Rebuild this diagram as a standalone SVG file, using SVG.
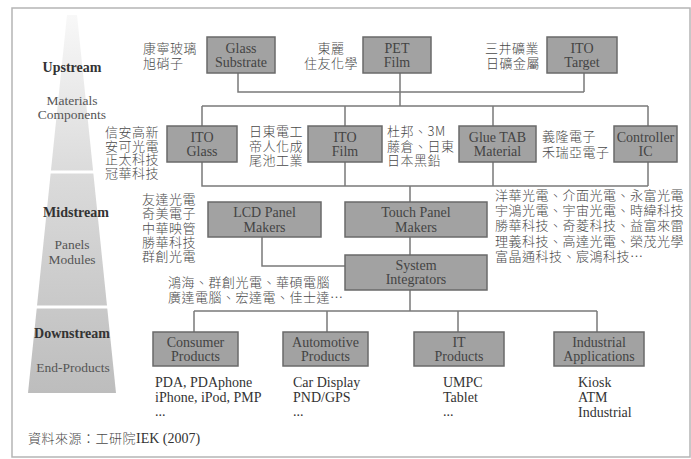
<svg xmlns="http://www.w3.org/2000/svg" width="691" height="459" viewBox="0 0 691 459">
<defs>
<linearGradient id="pyr" gradientUnits="userSpaceOnUse" x1="0" y1="15" x2="0" y2="393">
<stop offset="0" stop-color="#f8f8f8"/>
<stop offset="0.4" stop-color="#dcdcdc"/>
<stop offset="1" stop-color="#bdbdbd"/>
</linearGradient>
<style>
.frame{fill:#fff;stroke:#b5b5b5;stroke-width:1.5}
.box{fill:#a2a2a2;stroke:#6a6a6a;stroke-width:1.5}
.bt{font-family:"Liberation Serif",serif;font-size:14px;fill:#444;text-anchor:middle}
.lt{font-family:"Liberation Serif",serif;font-size:14px;fill:#333}
.st{font-family:"Liberation Serif",serif;font-size:14px;font-weight:bold;fill:#333;text-anchor:middle}
.sub{font-family:"Liberation Serif",serif;font-size:13.5px;fill:#555;text-anchor:middle}
.cn{font-family:"Noto Sans CJK TC","Noto Sans CJK SC",sans-serif;font-size:13px;font-weight:300;fill:#4a4a4a;letter-spacing:0.5px}
.mid{text-anchor:middle}
.conn path{fill:none;stroke:#7a7a7a;stroke-width:1.5}
</style>
</defs>
<rect class="frame" x="12" y="8" width="678" height="449"/>
<g id="pyramid">
<polygon points="67,15 77,15 116,393 28,393" fill="url(#pyr)"/>
<line x1="20" y1="172" x2="125" y2="172" stroke="#fff" stroke-width="3"/>
<line x1="20" y1="307" x2="125" y2="307" stroke="#fff" stroke-width="3"/>
<text class="st" x="72" y="72">Upstream</text>
<text class="sub" x="72" y="105">Materials<tspan x="72" dy="14">Components</tspan></text>
<text class="st" x="76" y="217">Midstream</text>
<text class="sub" x="72" y="249">Panels<tspan x="72" dy="15">Modules</tspan></text>
<text class="st" x="72" y="338">Downstream</text>
<text class="sub" x="73" y="372">End-Products</text>
</g>
<g class="conn" id="connectors">
<path d="M238 73V92H584M584 73V92M400 73V106"/>
<path d="M202 106H648M202 106V126M345 106V126M493 106V126M648 106V126"/>
<path d="M202 162V186H648M345 162V186M493 162V186M648 162V186M410 186V202"/>
<path d="M262 237V266H345M410 237V255M410 290V311"/>
<path d="M194 311H597M194 311V332M327 311V332M458 311V332M597 311V332"/>
</g>
<g id="glass-substrate"><rect class="box" x="207" y="37" width="68" height="36"/><text class="bt" x="241" y="53">Glass<tspan x="241" dy="14">Substrate</tspan></text></g>
<g id="pet-film"><rect class="box" x="363" y="37" width="68" height="36"/><text class="bt" x="397" y="53">PET<tspan x="397" dy="14">Film</tspan></text></g>
<g id="ito-target"><rect class="box" x="547" y="37" width="70" height="36"/><text class="bt" x="582" y="53">ITO<tspan x="582" dy="14">Target</tspan></text></g>
<g id="ito-glass"><rect class="box" x="167" y="126" width="70" height="36"/><text class="bt" x="202" y="142">ITO<tspan x="202" dy="14">Glass</tspan></text></g>
<g id="ito-film"><rect class="box" x="308" y="126" width="74" height="36"/><text class="bt" x="345" y="142">ITO<tspan x="345" dy="14">Film</tspan></text></g>
<g id="glue-tab"><rect class="box" x="459" y="126" width="77" height="36"/><text class="bt" x="497.5" y="142">Glue TAB<tspan x="497.5" dy="14">Material</tspan></text></g>
<g id="controller-ic"><rect class="box" x="614" y="126" width="63" height="36"/><text class="bt" x="645.5" y="142">Controller<tspan x="645.5" dy="14">IC</tspan></text></g>
<g id="lcd-panel"><rect class="box" x="208" y="202" width="113" height="35"/><text class="bt" x="264.5" y="217">LCD Panel<tspan x="264.5" dy="15">Makers</tspan></text></g>
<g id="touch-panel"><rect class="box" x="345" y="202" width="142" height="35"/><text class="bt" x="416" y="217">Touch Panel<tspan x="416" dy="15">Makers</tspan></text></g>
<g id="system-integrators"><rect class="box" x="345" y="255" width="142" height="35"/><text class="bt" x="416" y="270">System<tspan x="416" dy="14">Integrators</tspan></text></g>
<g id="consumer"><rect class="box" x="153" y="332" width="85" height="34"/><text class="bt" x="195.5" y="347">Consumer<tspan x="195.5" dy="14">Products</tspan></text></g>
<g id="automotive"><rect class="box" x="283" y="332" width="85" height="34"/><text class="bt" x="325.5" y="347">Automotive<tspan x="325.5" dy="14">Products</tspan></text></g>
<g id="it-products"><rect class="box" x="414" y="332" width="90" height="34"/><text class="bt" x="459" y="347">IT<tspan x="459" dy="14">Products</tspan></text></g>
<g id="industrial"><rect class="box" x="554" y="332" width="90" height="34"/><text class="bt" x="599" y="347">Industrial<tspan x="599" dy="14">Applications</tspan></text></g>
<g id="labels">
<text class="cn" x="143" y="53">康寧玻璃<tspan x="143" dy="15">旭硝子</tspan></text>
<text class="cn mid" x="331" y="53">東麗<tspan x="331" dy="15">住友化學</tspan></text>
<text class="cn" x="485" y="53">三井礦業<tspan x="486" dy="15">日礦金屬</tspan></text>
<text class="cn" x="105" y="137">信安高新<tspan x="105" dy="13.6">安可光電</tspan><tspan x="105" dy="13.6">正太科技</tspan><tspan x="105" dy="13.6">冠華科技</tspan></text>
<text class="cn" x="249" y="136">日東電工<tspan x="249" dy="14.5">帝人化成</tspan><tspan x="249" dy="14.5">尾池工業</tspan></text>
<text class="cn" x="387" y="136">杜邦、3M<tspan x="387" dy="14.5">藤倉、日東</tspan><tspan x="387" dy="14.5">日本黑鉛</tspan></text>
<text class="cn" x="542" y="141">義隆電子<tspan x="542" dy="16">禾瑞亞電子</tspan></text>
<text class="cn" x="142" y="204">友達光電<tspan x="142" dy="14.3">奇美電子</tspan><tspan x="142" dy="14.3">中華映管</tspan><tspan x="142" dy="14.3">勝華科技</tspan><tspan x="142" dy="14.3">群創光電</tspan></text>
<text class="cn" x="495" y="200">洋華光電、介面光電、永富光電<tspan x="495" dy="15.2">宇鴻光電、宇宙光電、時緯科技</tspan><tspan x="495" dy="15.2">勝華科技、奇菱科技、益富來雷</tspan><tspan x="495" dy="15.2">理義科技、高達光電、榮茂光學</tspan><tspan x="495" dy="15.2">富晶通科技、宸鴻科技…</tspan></text>
<text class="cn" x="168" y="287">鴻海、群創光電、華碩電腦<tspan x="168" dy="15">廣達電腦、宏達電、佳士達…</tspan></text>
<text class="lt" x="155" y="387">PDA, PDAphone<tspan x="155" dy="15">iPhone, iPod, PMP</tspan><tspan x="155" dy="14">...</tspan></text>
<text class="lt" x="293" y="387">Car Display<tspan x="293" dy="15">PND/GPS</tspan><tspan x="293" dy="14">...</tspan></text>
<text class="lt" x="443" y="387">UMPC<tspan x="443" dy="15">Tablet</tspan><tspan x="443" dy="14">...</tspan></text>
<text class="lt" x="578" y="387">Kiosk<tspan x="578" dy="15">ATM</tspan><tspan x="578" dy="15">Industrial</tspan></text>
<text class="lt" x="28" y="443"><tspan class="cn">資料來源：工研院</tspan>IEK (2007)</text>
</g>
</svg>
